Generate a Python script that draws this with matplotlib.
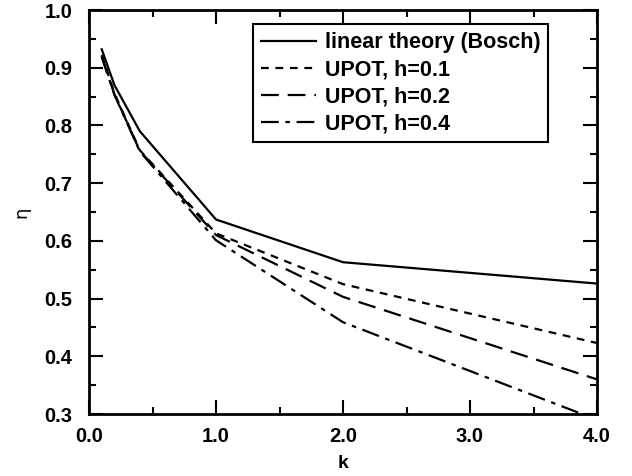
import numpy as np
import matplotlib.pyplot as plt
from matplotlib.ticker import MultipleLocator

plt.rcParams['font.family'] = ['Liberation Sans', 'DejaVu Sans']

k = [0.1, 0.2, 0.4, 1.0, 2.0, 4.0]
eta_bosch = [0.932, 0.870, 0.790, 0.637, 0.563, 0.526]
eta_h01 = [0.922, 0.856, 0.757, 0.613, 0.525, 0.423]
eta_h02 = [0.920, 0.854, 0.756, 0.610, 0.503, 0.360]
eta_h04 = [0.919, 0.853, 0.755, 0.601, 0.459, 0.290]

fig = plt.figure(figsize=(6.32, 4.76), dpi=100)
ax = fig.add_axes([89/632, 1-414/476, (597-89)/632, (414-10)/476])

lw = 1.6
ax.plot(k, eta_bosch, color='black', lw=lw, ls='-', label='linear theory (Bosch)')
ax.plot(k, eta_h01, color='black', lw=lw, ls=(0, (3.5, 3)), label='UPOT, h=0.1')
ax.plot(k, eta_h02, color='black', lw=lw, ls=(0, (8, 4)), label='UPOT, h=0.2')
ax.plot(k, eta_h04, color='black', lw=lw, ls=(0, (8, 3, 2, 3)), label='UPOT, h=0.4')

ax.set_xlim(0, 4)
ax.set_ylim(0.3, 1.0)
ax.xaxis.set_major_locator(MultipleLocator(1.0))
ax.xaxis.set_minor_locator(MultipleLocator(0.5))
ax.yaxis.set_major_locator(MultipleLocator(0.1))
ax.yaxis.set_minor_locator(MultipleLocator(0.05))
ax.xaxis.set_major_formatter(plt.FormatStrFormatter('%.1f'))
ax.yaxis.set_major_formatter(plt.FormatStrFormatter('%.1f'))

for s in ax.spines.values():
    s.set_linewidth(2)
ax.tick_params(which='both', direction='in', top=True, right=True, width=1.5)
ax.tick_params(which='major', length=10, labelsize=14.5)
ax.tick_params(axis='x', which='major', pad=9)
ax.tick_params(axis='y', which='major', pad=12)
ax.tick_params(which='minor', length=5)
for lab in ax.get_xticklabels() + ax.get_yticklabels():
    lab.set_fontweight('bold')

ax.set_xlabel('k', fontsize=14, fontweight='bold', labelpad=7)
ax.set_ylabel('η', fontsize=13, labelpad=10, family=['DejaVu Sans'])

leg = ax.legend(loc='upper left', bbox_to_anchor=(253/632, 1-24/476), bbox_transform=fig.transFigure,
                prop={'size': 15.5, 'weight': 'bold'}, handlelength=2.55, handletextpad=0.4,
                fancybox=False, framealpha=1, edgecolor='black', borderpad=0.38,
                labelspacing=0.28, borderaxespad=0)
leg.get_frame().set_linewidth(1.5)

fig.savefig('out.png', dpi=100)
